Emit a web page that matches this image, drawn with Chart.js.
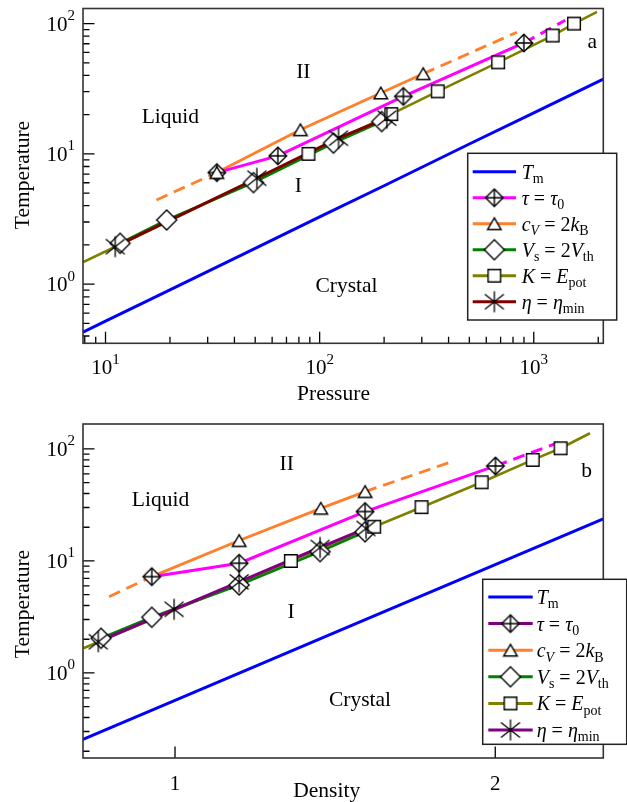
<!DOCTYPE html>
<html>
<head>
<meta charset="utf-8">
<script src="https://cdn.jsdelivr.net/npm/chart.js@4/dist/chart.umd.min.js"></script>
<style>
  html, body { margin: 0; padding: 0; background: #fff; }
  #wrap { position: relative; width: 627px; height: 802px; overflow: hidden; }
  canvas { position: absolute; left: 0; }
  #chartA { top: 0; }
  #chartB { top: 401px; }
</style>
</head>
<body>
<div id="wrap">
  <canvas id="chartA" width="627" height="401"></canvas>
  <canvas id="chartB" width="627" height="401"></canvas>
</div>
<script>
// ---------------- Panel a: temperature versus pressure ----------------
const aTmP   = [7.85, 10, 20, 50, 100, 200, 500, 1000, 2112];
const aTmT   = [0.429, 0.52, 0.904, 1.88, 3.28, 5.69, 11.9, 20.6, 37.5];

const aTauP  = [33.1, 63.8, 246, 899];
const aTauT  = [7.18, 9.65, 27.6, 71.0];
const aTauExtP = [1403];
const aTauExtT = [106];

const aCvLeadP = [17.3];
const aCvLeadT = [4.43];
const aCvP   = [33.1, 81.3, 193, 304.5];
const aCvT   = [7.18, 15.3, 29.3, 41.2];
const aCvExtP = [834];
const aCvExtT = [85.8];

const aVsP   = [11.7, 19.3, 49.1, 116, 195];
const aVsT   = [2.06, 3.11, 6.02, 12.1, 17.7];

const aKLeadP = [7.88];
const aKLeadT = [1.48];
const aKP    = [88.7, 216, 356, 682, 1225, 1542];
const aKT    = [10, 20.2, 30.2, 50.4, 80.9, 100];
const aKExtP = [1974];
const aKExtT = [123];

const aEtaP  = [11.1, 50.9, 122.5, 206];
const aEtaT  = [1.94, 6.5, 13.2, 18.8];

const aXMajor = [10, 100, 1000];
const aXMinor = [8, 9, 20, 30, 40, 50, 60, 70, 80, 90, 200, 300, 400, 500, 600, 700, 800, 900, 2000];
const aXLabels = ['1', '2', '3'];          // exponents of 10
const aYMajor = [1, 10, 100];
const aYMinor = [0.4, 0.5, 0.6, 0.7, 0.8, 0.9, 2, 3, 4, 5, 6, 7, 8, 9, 20, 30, 40, 50, 60, 70, 80, 90];
const aYLabels = ['0', '1', '2'];

// ---------------- Panel b: temperature versus density ----------------
const bTmR   = [0.8194, 1.0, 1.2, 1.5, 2.0, 2.527];
const bTmT   = [0.255, 0.569, 1.186, 2.91, 9.29, 23.8];

const bTauR  = [0.951, 1.149, 1.509, 2.001];
const bTauT  = [7.24, 9.54, 27.6, 70.5];
const bTauExtR = [2.292];
const bTauExtT = [113.8];

const bCvLeadR = [0.867, 0.951];
const bCvLeadT = [4.8, 7.24];
const bCvR   = [1.149, 1.371, 1.509];
const bCvT   = [15.2, 29.5, 41.6];
const bCvExtR = [1.813];
const bCvExtT = [76];

const bVsR   = [0.852, 0.951, 1.149, 1.369, 1.509];
const bVsT   = [2.04, 3.14, 6.1, 12.1, 18.2];

const bKLeadR = [0.82];
const bKLeadT = [1.66];
const bKR    = [1.285, 1.539, 1.705, 1.942, 2.169, 2.304];
const bKT    = [10, 20.2, 30.2, 50.4, 79.8, 101.4];
const bKExtR = [2.455];
const bKExtT = [138];

const bEtaR  = [0.847, 0.998, 1.149, 1.369, 1.512];
const bEtaT  = [1.90, 3.70, 6.5, 13.2, 19.5];

const bXMajor = [1, 2];
const bXLabels = ['1', '2'];
const bYMajor = [1, 10, 100];
const bYMinor = [0.2, 0.3, 0.4, 0.5, 0.6, 0.7, 0.8, 0.9, 2, 3, 4, 5, 6, 7, 8, 9, 20, 30, 40, 50, 60, 70, 80, 90];
const bYLabels = ['0', '1', '2'];

// ---------------- styling ----------------
const SERIF = '"Liberation Serif", "Times New Roman", serif';
const C_BLUE = '#0000ff', C_MAG = '#ff00ff', C_ORG = '#ff7f2a', C_GRN = '#008000',
      C_OLV = '#808000', C_DRED = '#800000', C_PURP = '#800080';

function sprite(size, draw) {
  const c = document.createElement('canvas');
  c.width = size; c.height = size;
  const g = c.getContext('2d');
  g.translate(size / 2, size / 2);
  g.lineWidth = 1.4; g.strokeStyle = '#000'; g.fillStyle = '#fff';
  draw(g);
  return c;
}
function diamondPath(g, r) {
  g.beginPath(); g.moveTo(0, -r); g.lineTo(r, 0); g.lineTo(0, r); g.lineTo(-r, 0); g.closePath();
}
const mkTau = sprite(22, g => {
  const r = 8.8; diamondPath(g, r); g.fill(); g.stroke();
  g.beginPath(); g.moveTo(0, -r); g.lineTo(0, r); g.moveTo(-r, 0); g.lineTo(r, 0); g.stroke();
});
const mkTri = sprite(18, g => {
  g.beginPath(); g.moveTo(0, -5.8); g.lineTo(6.8, 5.8); g.lineTo(-6.8, 5.8); g.closePath(); g.fill(); g.stroke();
});
const mkDia = sprite(24, g => { diamondPath(g, 10); g.fill(); g.stroke(); });
const mkSq = sprite(18, g => { g.beginPath(); g.rect(-6.3, -6.3, 12.6, 12.6); g.fill(); g.stroke(); });
const mkAst = sprite(26, g => {
  g.lineWidth = 1.3;
  g.beginPath();
  g.moveTo(0, -10.5); g.lineTo(0, 10.5);
  g.moveTo(-9.5, -7.5); g.lineTo(9.5, 7.5);
  g.moveTo(-9.5, 7.5); g.lineTo(9.5, -7.5);
  g.stroke();
});

function pts(xs, ys) { return xs.map((x, i) => ({ x, y: ys[i] })); }

function lineDS(data, color, width, dashStart, dashEnd, order) {
  const n = data.length;
  return {
    data, borderColor: color, borderWidth: width, pointRadius: 0, pointHoverRadius: 0,
    fill: false, tension: 0, order, borderCapStyle: 'butt',
    segment: {
      borderDash: c => (c.p0DataIndex < dashStart || c.p1DataIndex > n - 1 - dashEnd) ? [12, 7] : undefined
    }
  };
}
function markDS(data, img, order) {
  return { data, showLine: false, pointStyle: img, pointRadius: 6, pointHoverRadius: 6, order };
}

function drawRich(ctx, x, y, parts, size, align) {
  const fontOf = p => (p.it ? 'italic ' : '') + ((p.sub || p.sup) ? Math.round(size * 0.7) : size) + 'px ' + SERIF;
  let w = 0;
  for (const p of parts) { ctx.font = fontOf(p); w += ctx.measureText(p.t).width; }
  let cx = align === 'center' ? x - w / 2 : align === 'right' ? x - w : x;
  ctx.textAlign = 'left'; ctx.textBaseline = 'alphabetic'; ctx.fillStyle = '#000';
  for (const p of parts) {
    ctx.font = fontOf(p);
    const dy = p.sub ? size * 0.22 : p.sup ? -size * 0.5 : 0;
    ctx.fillText(p.t, cx, y + dy);
    cx += ctx.measureText(p.t).width;
  }
}
function text(ctx, s, x, y, size, align) {
  ctx.font = size + 'px ' + SERIF; ctx.fillStyle = '#000';
  ctx.textAlign = align || 'center'; ctx.textBaseline = 'alphabetic';
  ctx.fillText(s, x, y);
}

const legendLabels = [
  [{ t: 'T', it: true }, { t: 'm', sub: true }],
  [{ t: 'τ', it: true }, { t: ' = ' }, { t: 'τ', it: true }, { t: '0', sub: true }],
  [{ t: 'c', it: true }, { t: 'V', it: true, sub: true }, { t: ' = 2' }, { t: 'k', it: true }, { t: 'B', sub: true }],
  [{ t: 'V', it: true }, { t: 's', sub: true }, { t: ' = 2' }, { t: 'V', it: true }, { t: 'th', sub: true }],
  [{ t: 'K', it: true }, { t: ' = ' }, { t: 'E', it: true }, { t: 'pot', sub: true }],
  [{ t: 'η', it: true }, { t: ' = ' }, { t: 'η', it: true }, { t: 'min', sub: true }]
];
const legendMarks = [null, mkTau, mkTri, mkDia, mkSq, mkAst];

// decorations: frame, inward ticks, tick labels, titles, region names, legend
function decorPlugin(cfg) {
  return {
    id: 'decor',
    afterDraw(chart) {
      const ctx = chart.ctx, a = chart.chartArea, xs = chart.scales.x, ys = chart.scales.y;
      ctx.save();
      // ticks
      ctx.strokeStyle = '#000'; ctx.lineWidth = 1.3;
      ctx.beginPath();
      cfg.xMajor.forEach(v => { const x = xs.getPixelForValue(v); ctx.moveTo(x, a.bottom); ctx.lineTo(x, a.bottom - 11.5); });
      (cfg.xMinor || []).forEach(v => { const x = xs.getPixelForValue(v); ctx.moveTo(x, a.bottom); ctx.lineTo(x, a.bottom - 6.5); });
      cfg.yMajor.forEach(v => { const y = ys.getPixelForValue(v); ctx.moveTo(a.left, y); ctx.lineTo(a.left + 11.5, y); });
      cfg.yMinor.forEach(v => { const y = ys.getPixelForValue(v); ctx.moveTo(a.left, y); ctx.lineTo(a.left + 6.5, y); });
      ctx.stroke();
      // frame
      ctx.strokeStyle = '#333'; ctx.lineWidth = 1.6;
      ctx.strokeRect(a.left, a.top, a.right - a.left, a.bottom - a.top);

      // tick labels
      cfg.xMajor.forEach((v, i) => {
        const x = xs.getPixelForValue(v);
        if (cfg.xPow) drawRich(ctx, x, a.bottom + cfg.xLabelDy, [{ t: '10' }, { t: cfg.xLabels[i], sup: true }], 21, 'center');
        else text(ctx, cfg.xLabels[i], x, a.bottom + cfg.xLabelDy, 21, 'center');
      });
      cfg.yMajor.forEach((v, i) => {
        const y = ys.getPixelForValue(v);
        drawRich(ctx, 75, y + 7, [{ t: '10' }, { t: cfg.yLabels[i], sup: true }], 21, 'right');
      });

      // axis titles
      text(ctx, cfg.xTitle, cfg.xTitlePos[0], cfg.xTitlePos[1], 21.5, 'center');
      ctx.save();
      ctx.translate(cfg.yTitlePos[0], cfg.yTitlePos[1]);
      ctx.rotate(-Math.PI / 2);
      text(ctx, 'Temperature', 0, 0, 21.5, 'center');
      ctx.restore();

      // region names
      cfg.notes.forEach(n => text(ctx, n[0], n[1], n[2], 21.5, 'center'));

      // legend
      const L = cfg.legend;
      ctx.fillStyle = '#fff';
      ctx.fillRect(L.box[0], L.box[1], L.box[2] - L.box[0], L.box[3] - L.box[1]);
      ctx.strokeStyle = '#222'; ctx.lineWidth = 1.5;
      ctx.strokeRect(L.box[0], L.box[1], L.box[2] - L.box[0], L.box[3] - L.box[1]);
      legendLabels.forEach((parts, i) => {
        const y = L.row0 + i * L.step;
        ctx.strokeStyle = L.colors[i]; ctx.lineWidth = 3; ctx.setLineDash([]);
        ctx.beginPath(); ctx.moveTo(L.line[0], y); ctx.lineTo(L.line[1], y); ctx.stroke();
        const m = legendMarks[i];
        if (m) ctx.drawImage(m, (L.line[0] + L.line[1]) / 2 - m.width / 2, y - m.height / 2);
        drawRich(ctx, L.textX, y + 7, parts, 20, 'left');
      });
      ctx.restore();
    }
  };
}

function makeChart(id, datasets, scales, pad, cfg) {
  return new Chart(document.getElementById(id), {
    type: 'line',
    data: { datasets },
    options: {
      responsive: false, animation: false, devicePixelRatio: 1,
      layout: { padding: pad },
      plugins: { legend: { display: false }, tooltip: { enabled: false } },
      events: [],
      scales
    },
    plugins: [decorPlugin(cfg)]
  });
}

// panel a
makeChart('chartA', [
  markDS(pts(aEtaP, aEtaT), mkAst, 1),
  markDS(pts(aKP, aKT), mkSq, 2),
  markDS(pts(aVsP, aVsT), mkDia, 3),
  markDS(pts(aCvP, aCvT), mkTri, 4),
  markDS(pts(aTauP, aTauT), mkTau, 5),
  lineDS(pts(aEtaP, aEtaT), C_DRED, 3, 0, 0, 11),
  lineDS(pts(aVsP, aVsT), C_GRN, 2.6, 0, 0, 12),
  lineDS(pts(aKLeadP.concat(aKP, aKExtP), aKLeadT.concat(aKT, aKExtT)), C_OLV, 2.6, 0, 0, 13),
  lineDS(pts(aTauP.concat(aTauExtP), aTauT.concat(aTauExtT)), C_MAG, 3, 0, 1, 14),
  lineDS(pts(aCvLeadP.concat(aCvP, aCvExtP), aCvLeadT.concat(aCvT, aCvExtT)), C_ORG, 2.8, 1, 1, 15),
  lineDS(pts(aTmP, aTmT), C_BLUE, 3, 0, 0, 16)
], {
  x: { type: 'logarithmic', min: 7.85, max: 2112, display: false },
  y: { type: 'logarithmic', min: 0.3516, max: 130.5, display: false }
}, { left: 83, right: 23.7, top: 8.5, bottom: 57.7 }, {
  xMajor: aXMajor, xMinor: aXMinor, xLabels: aXLabels, xPow: true, xLabelDy: 31,
  yMajor: aYMajor, yMinor: aYMinor, yLabels: aYLabels,
  xTitle: 'Pressure', xTitlePos: [333.5, 400], yTitlePos: [29, 175],
  notes: [['II', 303.3, 78.3], ['Liquid', 170.3, 123.3], ['I', 298.3, 191.7], ['Crystal', 346.5, 291.7], ['a', 592.3, 48.3]],
  legend: {
    box: [467.7, 153.3, 616.7, 320], row0: 171.7, step: 26, line: [472.7, 516], textX: 521.7,
    colors: [C_BLUE, C_MAG, C_ORG, C_GRN, C_OLV, C_DRED]
  }
});

// panel b (canvas starts 401 px lower)
makeChart('chartB', [
  markDS(pts(bEtaR, bEtaT), mkAst, 1),
  markDS(pts(bKR, bKT), mkSq, 2),
  markDS(pts(bVsR, bVsT), mkDia, 3),
  markDS(pts(bCvR, bCvT), mkTri, 4),
  markDS(pts(bTauR, bTauT), mkTau, 5),
  lineDS(pts(bEtaR, bEtaT), C_PURP, 3, 0, 0, 11),
  lineDS(pts(bVsR, bVsT), C_GRN, 2.6, 0, 0, 12),
  lineDS(pts(bKLeadR.concat(bKR, bKExtR), bKLeadT.concat(bKT, bKExtT)), C_OLV, 2.6, 0, 0, 13),
  lineDS(pts(bTauR.concat(bTauExtR), bTauT.concat(bTauExtT)), C_MAG, 3, 0, 1, 14),
  lineDS(pts(bCvLeadR.concat(bCvR, bCvExtR), bCvLeadT.concat(bCvT, bCvExtT)), C_ORG, 2.8, 1, 1, 15),
  lineDS(pts(bTmR, bTmT), C_BLUE, 3, 0, 0, 16)
], {
  x: { type: 'logarithmic', min: 0.8194, max: 2.527, display: false },
  y: { type: 'logarithmic', min: 0.174, max: 167, display: false }
}, { left: 83, right: 23.7, top: 23, bottom: 44 }, {
  xMajor: bXMajor, xMinor: [], xLabels: bXLabels, xPow: false, xLabelDy: 32,
  yMajor: bYMajor, yMinor: bYMinor, yLabels: bYLabels,
  xTitle: 'Density', xTitlePos: [326.7, 395.7], yTitlePos: [29, 203],
  notes: [['II', 286.7, 69], ['Liquid', 160.5, 105], ['I', 291, 217.3], ['Crystal', 360, 305], ['b', 586.7, 75.7]],
  legend: {
    box: [482.7, 178.3, 626.7, 343.3], row0: 196, step: 26.6, line: [488.3, 532.7], textX: 536.7,
    colors: [C_BLUE, C_PURP, C_ORG, C_GRN, C_OLV, C_PURP]
  }
});
</script>
</body>
</html>
